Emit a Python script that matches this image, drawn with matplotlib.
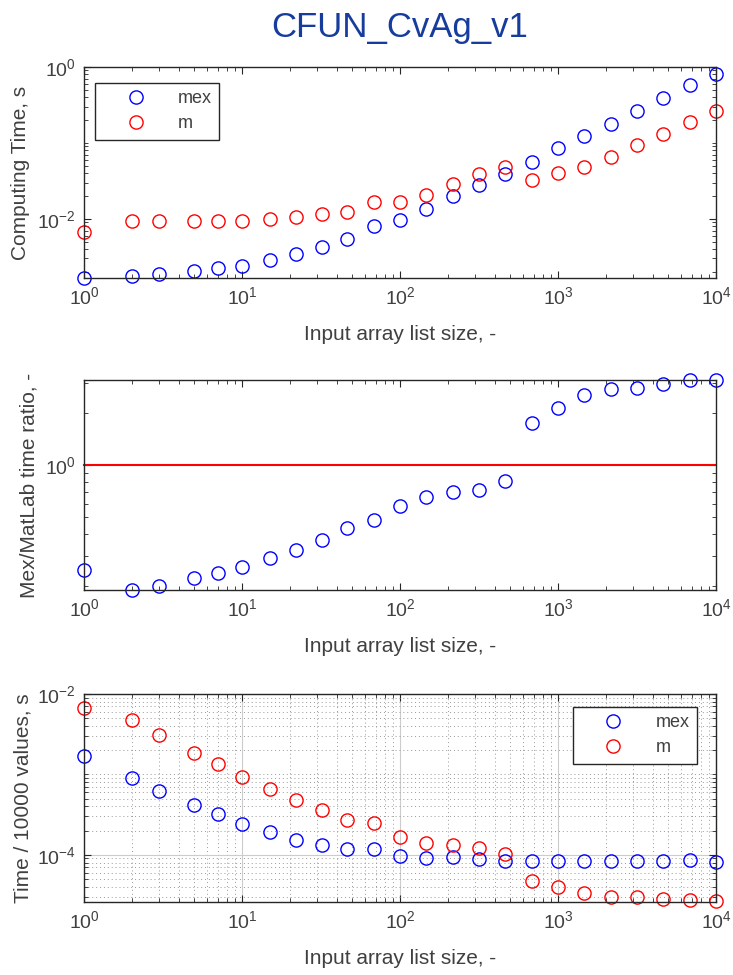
import numpy as np
import matplotlib
matplotlib.use("Agg")
import matplotlib.pyplot as plt
from matplotlib.ticker import LogLocator, NullFormatter

plt.rcParams['font.family'] = ['Liberation Sans', 'DejaVu Sans']
plt.rcParams['mathtext.fontset'] = 'custom'
plt.rcParams['mathtext.rm'] = 'Liberation Sans'
plt.rcParams['mathtext.it'] = 'Liberation Sans'

# input array list sizes
sizes = [1, 2, 3, 5, 7, 10, 15, 22, 32, 46, 68, 100, 147, 215, 316, 464,
         681, 1000, 1468, 2154, 3162, 4642, 6813, 10000]

# computing time, s
t_mex = [1.67e-3, 1.79e-3, 1.87e-3, 2.08e-3, 2.23e-3, 2.42e-3, 2.88e-3, 3.39e-3,
         4.23e-3, 5.39e-3, 8.09e-3, 9.7e-3, 0.0134, 0.0201, 0.0281, 0.0392,
         0.0565, 0.0846, 0.124, 0.179, 0.266, 0.390, 0.579, 0.817]
t_m = [6.7e-3, 9.4e-3, 9.3e-3, 9.3e-3, 9.4e-3, 9.4e-3, 9.9e-3, 0.0105,
       0.0114, 0.0124, 0.0167, 0.0167, 0.0203, 0.0286, 0.0388, 0.048,
       0.032, 0.0396, 0.0485, 0.065, 0.0946, 0.132, 0.186, 0.262]

labels = ["mex", "m"]
title = "CFUN_CvAg_v1"

n = np.array(sizes, dtype=float)
mex = np.array(t_mex)
mm = np.array(t_m)
ratio = mex / mm
per_mex = mex / n
per_m = mm / n

dark = '#262626'
txt = '#404040'
fig = plt.figure(figsize=(7.33, 9.75), dpi=100)
fig.patch.set_facecolor('white')

left, width = 84 / 733, 632 / 733
ax1 = fig.add_axes([left, 1 - 278 / 975, width, 211 / 975])
ax2 = fig.add_axes([left, 1 - 590 / 975, width, 210 / 975])
ax3 = fig.add_axes([left, 1 - 902 / 975, width, 208 / 975])

mk = dict(ls='none', marker='o', ms=9.5, mfc='none', mew=1.0)

ax1.plot(n, mex, color='blue', label=labels[0], **mk)
ax1.plot(n, mm, color='red', label=labels[1], **mk)
ax1.set_ylim(1.66e-3, 1)
ax1.set_yscale('log')
ax1.set_yticks([1e-2, 1])

ax2.plot(n, ratio, color='blue', **mk)
ax2.axhline(1, color='red', lw=1.5)
ax2.set_yscale('log')
ax2.set_ylim(ratio.min(), ratio.max())
ax2.set_yticks([1])

ax3.plot(n, per_mex, color='blue', label=labels[0], **mk)
ax3.plot(n, per_m, color='red', label=labels[1], **mk)
ax3.set_yscale('log')
ax3.set_ylim(2.58e-5, 1e-2)
ax3.set_yticks([1e-4, 1e-2])
ax3.grid(which='major', color='#cccccc', ls='-', lw=0.8)
ax3.grid(which='minor', color='#999999', ls=(0, (1, 3)), lw=0.7)
ax3.set_axisbelow(True)

ylabels = ["Computing Time, s", "Mex/MatLab time ratio, -", "Time / 10000 values, s"]
ylab_x = [-0.085, -0.072, -0.081]
for ax, yl, lx in zip([ax1, ax2, ax3], ylabels, ylab_x):
    ax.set_xscale('log')
    ax.set_xlim(1, 1e4)
    ax.set_xticks([1, 10, 100, 1000, 10000])
    ax.xaxis.set_minor_locator(LogLocator(base=10, subs=np.arange(2, 10), numticks=100))
    ax.yaxis.set_minor_locator(LogLocator(base=10, subs=np.arange(1, 10), numticks=100))
    ax.xaxis.set_minor_formatter(NullFormatter())
    ax.yaxis.set_minor_formatter(NullFormatter())
    ax.tick_params(which='both', direction='in', top=True, right=True,
                   color=dark, labelcolor=txt, labelsize=14)
    ax.tick_params(which='major', length=5, width=0.8, pad=6)
    ax.tick_params(which='minor', length=3, width=0.6)
    for sp in ax.spines.values():
        sp.set_color(dark)
        sp.set_linewidth(1.0)
    ax.set_xlabel("Input array list size, -", fontsize=15, color=txt, labelpad=12)
    ax.set_ylabel(yl, fontsize=15, color=txt)
    ax.yaxis.set_label_coords(lx, 0.5)
    for ln in ax.lines:
        ln.set_clip_on(False)

leg_kw = dict(fontsize=13, frameon=True, fancybox=False, edgecolor=dark,
              framealpha=1, handlelength=3.7, handletextpad=0.5,
              borderpad=0.4, labelspacing=0.45, borderaxespad=0)
lg1 = ax1.legend(loc='upper left', bbox_to_anchor=(0.0174, 0.924), **leg_kw)
lg3 = ax3.legend(loc='upper right', bbox_to_anchor=(0.970, 0.9375), **leg_kw)
for lg in (lg1, lg3):
    lg.get_frame().set_linewidth(1.0)
    for t in lg.get_texts():
        t.set_color(txt)

fig.text(left + width / 2, 1 - 37 / 975, title, ha='center', va='baseline',
         fontsize=25, color='#163c9e')

fig.savefig("out.png", dpi=100, facecolor='white')
